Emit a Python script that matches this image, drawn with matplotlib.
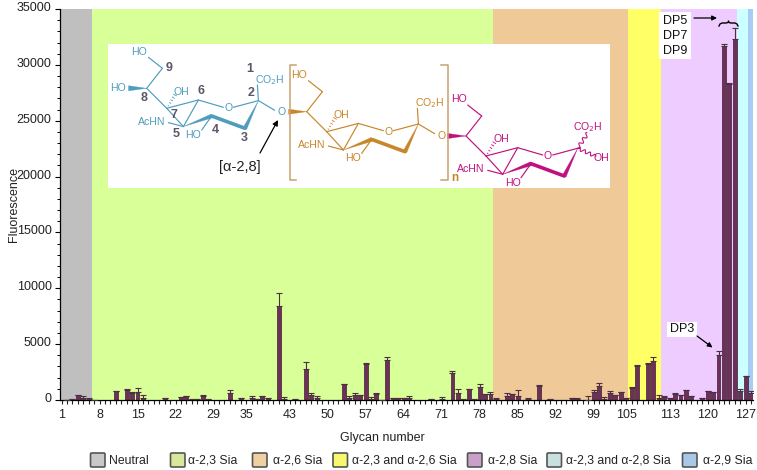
import numpy as np
import matplotlib
matplotlib.use('Agg')
import matplotlib.pyplot as plt
from matplotlib.patches import Rectangle, Polygon, FancyBboxPatch
from matplotlib.transforms import ScaledTranslation

plt.rcParams['font.family'] = ['Liberation Sans', 'DejaVu Sans']

# ---- data ----
glycans = [2, 3, 4, 5, 6, 7, 11, 13, 14, 15, 16, 20, 23, 24, 25, 26, 27, 28, 32, 34, 36, 37, 38, 39,
           41, 42, 44, 46, 47, 48, 53, 54, 55, 56, 57, 58, 59, 60, 61, 62, 63, 64, 65, 69, 71,
           73, 74, 75, 76, 77, 78, 79, 80, 81, 83, 84, 85, 87, 89, 91, 95, 96, 98, 99, 100,
           101, 102, 103, 104, 105, 106, 107, 109, 110, 111, 112, 113, 114, 115, 116, 117,
           119, 120, 121, 122, 123, 124, 125, 126, 127, 128]
values = [30, 100, 450, 150, 60, 30, 780, 890, 650, 715, 180, 150, 240, 330, 80, 90, 330, 90, 600, 150, 150, 60, 330, 180,
          8450, 60, 100, 2740, 450, 150, 1430, 180, 480, 450, 3220, 50, 570, 30, 3580, 180, 210, 210, 150, 60, 120,
          2380, 600, 90, 950, 60, 1160, 510, 510, 60, 360, 570, 390, 60, 1280, 60, 150, 60, 30, 690, 1250,
          90, 630, 480, 715, 180, 1070, 3070, 3220, 3460, 150, 270, 150, 510, 450, 860, 360,
          180, 830, 715, 4000, 31700, 28300, 32300, 775, 2115, 625]
err_tops = [30, 100, 470, 390, 200, 30, 800, 1000, 700, 1040, 420, 200, 250, 340, 130, 100, 450, 100, 860, 160, 330, 120, 340, 200,
            9600, 270, 110, 3370, 600, 330, 1450, 390, 600, 460, 3300, 240, 600, 30, 3840, 190, 220, 220, 390, 70, 240,
            2560, 950, 100, 960, 70, 1430, 520, 745, 210, 650, 580, 890, 150, 1300, 100, 160, 150, 330, 860, 1490,
            240, 800, 490, 730, 190, 1130, 3160, 3300, 3840, 420, 330, 160, 650, 460, 870, 370,
            190, 840, 730, 4350, 31900, 28400, 33300, 1010, 2130, 800]
tick_labels = [1, 8, 15, 22, 29, 35, 43, 50, 57, 64, 71, 78, 85, 92, 99, 105, 113, 120, 127]
region_edges = [0.72, 6.62, 80.47, 105.3, 111.4, 125.4, 127.4, 128.35]
region_colors = ['#bfbfbf', '#d9ff99', '#f0c998', '#ffff66', '#eeccff', '#ccffff', '#a8ccf5']
legend_names = ['Neutral', 'α-2,3 Sia', 'α-2,6 Sia', 'α-2,3 and α-2,6 Sia', 'α-2,8 Sia',
                'α-2,3 and α-2,8 Sia', 'α-2,9 Sia']
legend_colors = ['#c8c8c8', '#d8e89a', '#f0d0a0', '#f8f870', '#c8a0c8', '#c8e0e0', '#a8c8e8']
legend_swatch_x = [90.5, 170.5, 252.5, 333, 467.5, 547, 682.5]
legend_text_x = [108.5, 187.5, 273, 352, 488, 566, 703]

W, H = 757, 470
fig = plt.figure(figsize=(W / 100, H / 100), dpi=100, facecolor='white')
ax = fig.add_axes([60 / W, 1 - 400 / H, (753 - 60) / W, (400 - 9) / H])
for i, c in enumerate(region_colors):
    ax.axvspan(region_edges[i], region_edges[i + 1], color=c, lw=0, zorder=0)
v = np.array(values, float)
e = np.array(err_tops, float) - v
ax.bar(glycans, v, width=0.72, color='#6e2f58', edgecolor='#3c1f33', linewidth=0.5, zorder=2)
ax.errorbar(glycans, v, yerr=[np.zeros_like(e), e], fmt='none', ecolor='#4a3040', elinewidth=0.8,
            capsize=2.0, capthick=0.8, zorder=3)
ax.set_xlim(region_edges[0], region_edges[-1])
ax.set_ylim(0, 35000)
ax.set_yticks(np.arange(0, 35001, 5000))
ax.set_yticks(np.arange(0, 35001, 1000), minor=True)
ax.set_xticks(np.arange(1, 129))
ax.set_xticklabels([str(n) if n in tick_labels else '' for n in range(1, 129)], fontsize=9)
ax.tick_params(axis='x', length=3.2, width=0.8, pad=3, color='#222222', labelcolor='#222222')
ax.tick_params(axis='y', which='major', length=3.6, width=0.8, labelsize=9, pad=2.4, labelcolor='#222222')
ax.tick_params(axis='y', which='minor', length=2.2, width=0.7)
up = ScaledTranslation(0, 2.5 / 72 * 72 / 100, fig.dpi_scale_trans)
for lab in ax.get_yticklabels():
    lab.set_transform(lab.get_transform() + up)
for s in ('top', 'right'):
    ax.spines[s].set_visible(False)
for s in ('left', 'bottom'):
    ax.spines[s].set_linewidth(0.9)

# overlay in pixel coordinates for the annotations
ov = fig.add_axes([0, 0, 1, 1], facecolor='none')
ov.set_xlim(0, W)
ov.set_ylim(H, 0)
ov.axis('off')

ov.text(14, 205, 'Fluorescence', rotation=90, ha='center', va='center', fontsize=9, color='#222222')
ov.text(382.5, 438, 'Glycan number', ha='center', va='center', fontsize=9, color='#222222')

ov.add_patch(Rectangle((108, 44), 502, 144, fc='white', ec='none', zorder=1))


def sugar(x0, y0, col, lw=0.85, link=True, hs=7.6):
    P = dict(C8=(0, 0), C9=(15.7, -20), O9=(1.7, -31), C7=(20, 20), C6=(51.7, 11.7),
             Ol=(76.7, 19), Or=(86.7, 19), C2=(111.7, 12.3), C5=(36.7, 38.3), C4=(65, 27.7),
             C3=(98.3, 40), CO=(110.7, -3.3), OL=(128, 22), HO4=(55, 41.7), N=(21.7, 34.3))
    P = {k: (a + x0, b + y0) for k, (a, b) in P.items()}

    def L(a, b):
        ov.plot([P[a][0], P[b][0]], [P[a][1], P[b][1]], color=col, lw=lw, zorder=3, solid_capstyle='round')

    for a, b in [('O9', 'C9'), ('C9', 'C8'), ('C8', 'C7'), ('C7', 'C6'), ('C6', 'Ol'), ('Or', 'C2'),
                 ('C7', 'C5'), ('C5', 'C6'), ('N', 'C5'), ('C4', 'HO4')]:
        L(a, b)
    if link:
        L('C2', 'CO')
        L('C2', 'OL')

    def wedge(a, b, w):
        (xa, ya), (xb, yb) = P[a], P[b]
        dx, dy = xb - xa, yb - ya
        n = np.hypot(dx, dy)
        nx, ny = -dy / n * w / 2, dx / n * w / 2
        ov.add_patch(Polygon([(xa, ya), (xb + nx, yb + ny), (xb - nx, yb - ny)], fc=col, ec=col, lw=0.2, zorder=3))

    wedge('C5', 'C4', 4)
    wedge('C2', 'C3', 4)
    ov.plot([P['C4'][0], P['C3'][0]], [P['C4'][1], P['C3'][1]], color=col, lw=2.6, zorder=3, solid_capstyle='round')
    # hashed bond to OH
    for t in np.linspace(0.2, 1, 5):
        cx, cy = x0 + 20 + 8.3 * t, y0 + 20 - 13.3 * t
        d = 1.6 * t
        ov.plot([cx - d * 0.85, cx + d * 0.85], [cy - d * 0.5, cy + d * 0.5], color=col, lw=0.6, zorder=3)
    kw = dict(color=col, fontsize=hs, ha='center', va='center', zorder=4)
    ov.text(x0 - 7.3, y0 - 36.7, 'HO', **kw)
    ov.text(x0 + 35, y0 + 3.3, 'OH', **kw)
    ov.text(x0 + 82, y0 + 20, 'O', **kw)
    ov.text(x0 + 5, y0 + 33.3, 'AcHN', **kw)
    ov.text(x0 + 46.7, y0 + 46.7, 'HO', **kw)
    if link:
        ov.text(x0 + 122.7, y0 - 8.3, 'CO$_{2}$H', **kw)


def side(xa, xb, y, col):
    ov.add_patch(Polygon([(xa, y - 2.6), (xa, y + 2.6), (xb, y)], fc=col, ec=col, lw=0.2, zorder=3))


blue, orange, magenta = '#4f9dbd', '#c8862a', '#c0127f'
sugar(146.7, 88.3, blue)
sugar(306.7, 111.7, orange)
sugar(466, 136, magenta, link=False)
# C8 side groups (wedges)
side(128.5, 146.7, 88.3, blue)
ov.text(118, 88.3, 'HO', color=blue, fontsize=7.6, ha='center', va='center', zorder=4)
side(288.5, 306.7, 111.7, orange)
ov.text(281.5, 112, 'O', color=blue, fontsize=7.6, ha='center', va='center', zorder=4)
side(447.5, 466, 136, magenta)
ov.text(441.5, 136, 'O', color=orange, fontsize=7.6, ha='center', va='center', zorder=4)
# reducing end of the magenta unit
ax_c2 = (466 + 111.7, 136 + 12.3)
t = np.linspace(0, 1, 40)
ov.plot(ax_c2[0] + 10 * t + 1.4 * np.sin(t * 18), ax_c2[1] - 15 * t + 1.2 * np.sin(t * 18), color=magenta, lw=0.8, zorder=3)
ov.plot(ax_c2[0] + 18 * t + 1.0 * np.sin(t * 22), ax_c2[1] + 8 * t - 1.4 * np.sin(t * 22), color=magenta, lw=0.8, zorder=3)
ov.text(588, 127, 'CO$_{2}$H', color=magenta, fontsize=7.6, ha='center', va='center', zorder=4)
ov.text(601, 158, 'OH', color=magenta, fontsize=7.6, ha='center', va='center', zorder=4)

# brackets
bc = '#c9a26e'
ov.plot([296, 289.5, 289.5, 296], [65, 65, 179.5, 179.5], color=bc, lw=1.1, zorder=3)
ov.plot([441, 448, 448, 441], [65, 65, 179.5, 179.5], color=bc, lw=1.1, zorder=3)
ov.text(455, 178, 'n', color=orange, fontsize=8.5, fontweight='bold', ha='center', va='center', zorder=4)

# position numbers
num = [('1', 250, 69), ('2', 250.7, 92.7), ('3', 244, 138), ('4', 215, 130), ('5', 176, 134),
       ('6', 200.7, 90.7), ('7', 174, 115), ('8', 143.7, 97.7), ('9', 169.3, 68.3)]
for s, x, y in num:
    ov.text(x, y, s, color='#5a5568', fontsize=9, fontweight='bold', ha='center', va='center', zorder=4)

ov.text(240, 167, '[α-2,8]', color='#222222', fontsize=10.5, ha='center', va='center', zorder=4)
ov.annotate('', xy=(278, 120), xytext=(260, 153), zorder=4,
            arrowprops=dict(arrowstyle='-|>', color='black', lw=0.9, mutation_scale=8, shrinkA=0, shrinkB=0))

# DP labels
ov.add_patch(Rectangle((659, 12), 32, 47, fc='white', ec='none', zorder=1))
for s, y in [('DP5', 21.5), ('DP7', 36), ('DP9', 50.5)]:
    ov.text(675, y, s, color='#111111', fontsize=9, ha='center', va='center', zorder=4)
ov.annotate('', xy=(717, 18), xytext=(694, 18), zorder=4,
            arrowprops=dict(arrowstyle='-|>', color='black', lw=0.9, mutation_scale=7, shrinkA=0, shrinkB=0))
# curly brace over the DP5-DP9 bars
bx = [719, 720, 722, 726, 728, 728.5, 729, 731, 735, 737, 738]
by = [26, 24, 23, 23, 22.5, 21, 22.5, 23, 23, 24, 26]
ov.plot(bx, by, color='black', lw=1.0, zorder=4)
ov.add_patch(Rectangle((667, 322), 30, 14.5, fc='white', ec='none', zorder=1))
ov.text(682, 329, 'DP3', color='#111111', fontsize=9, ha='center', va='center', zorder=4)
ov.annotate('', xy=(712.5, 347.5), xytext=(697, 336), zorder=4,
            arrowprops=dict(arrowstyle='-|>', color='black', lw=0.9, mutation_scale=7, shrinkA=0, shrinkB=0))

# legend
for name, col, sx, tx in zip(legend_names, legend_colors, legend_swatch_x, legend_text_x):
    ov.add_patch(FancyBboxPatch((sx, 453), 14.5, 14, boxstyle='round,pad=0,rounding_size=1.2',
                                fc=col, ec='#555555', lw=1.2, zorder=3))
    ov.text(tx, 460.7, name, fontsize=8.8, color='#222222', ha='left', va='center', zorder=4)

fig.savefig('out.png', dpi=100)
